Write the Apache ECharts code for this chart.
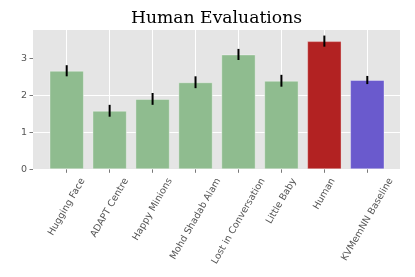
<!DOCTYPE html>
<html><head><meta charset="utf-8">
<script src="https://cdn.jsdelivr.net/npm/echarts@6/dist/echarts.min.js"></script>
<style>html,body{margin:0;padding:0;background:#fff}#c{width:415px;height:277px}</style>
</head><body><div id="c"></div>
<script>
const categories = ['Hugging Face','ADAPT Centre','Happy Minions','Mohd Shadab Alam','Lost in Conversation','Little Baby','Human','KVMemNN Baseline'];
const values = [2.66, 1.58, 1.90, 2.35, 3.10, 2.39, 3.46, 2.41];
const errors = [0.15, 0.16, 0.16, 0.16, 0.15, 0.16, 0.15, 0.11];
const barColors = ['#8FBC8F','#8FBC8F','#8FBC8F','#8FBC8F','#8FBC8F','#8FBC8F','#B22222','#6A5ACD'];
const yTicks = [0, 1, 2, 3];
const yMax = 3.76;

const LABEL_FONT_SIZE = 9.5;
const LABEL_FONT = LABEL_FONT_SIZE + 'px "DejaVu Sans"';
const measureCtx = document.createElement('canvas').getContext('2d');
measureCtx.font = LABEL_FONT;

const chart = echarts.init(document.getElementById('c'), null, {renderer: 'canvas'});
const gridTop = 30, gridBottom = 107.7;
chart.setOption({
  animation: false,
  title: {
    text: 'Human Evaluations', left: 216.5, top: 10, textAlign: 'center', padding: 0,
    textStyle: {fontFamily: '"DejaVu Serif"', fontWeight: 'normal', fontSize: 17.2, color: '#000'}
  },
  grid: [
    {left: 33, right: 15, top: gridTop, bottom: gridBottom, show: true, backgroundColor: '#E5E5E5', borderWidth: 0},
    {left: 66.7, right: 47.7, top: gridTop, bottom: gridBottom}
  ],
  xAxis: [
    {gridIndex: 0, type: 'value', min: 0, max: 1, show: false},
    {gridIndex: 1, type: 'value', min: 0, max: categories.length - 1, interval: 1,
     axisLine: {show: false},
     axisTick: {show: true, inside: false, length: 3.5, lineStyle: {color: '#555', width: 0.8}},
     axisLabel: {show: false},
     splitLine: {show: true, lineStyle: {color: '#fff', width: 1}}}
  ],
  yAxis: [
    {gridIndex: 0, type: 'value', min: 0, max: yMax,
     axisLine: {show: false},
     axisTick: {show: true, inside: false, length: 3.5, customValues: yTicks, lineStyle: {color: '#555', width: 0.8}},
     axisLabel: {customValues: yTicks, color: '#555', fontSize: LABEL_FONT_SIZE, fontFamily: '"DejaVu Sans"', margin: 6},
     splitLine: {show: true, showMaxLine: false, lineStyle: {color: '#fff', width: 1}}},
    {gridIndex: 1, type: 'value', min: 0, max: yMax, show: false, splitLine: {show: false}}
  ],
  series: [
    {
      type: 'bar', xAxisIndex: 1, yAxisIndex: 1, clip: false, barWidth: 34.4,
      data: values.map((v, i) => ({value: [i, v], itemStyle: {color: barColors[i], borderColor: 'rgba(255,255,255,0.35)', borderWidth: 1}}))
    },
    {
      type: 'custom', xAxisIndex: 1, yAxisIndex: 1, z: 5,
      encode: {x: 0, y: 1},
      data: values.map((v, i) => [i, v, errors[i]]),
      renderItem: function (params, api) {
        const i = api.value(0), v = api.value(1), e = api.value(2);
        const a = api.coord([i, v + e]);
        const b = api.coord([i, v - e]);
        return {type: 'line', shape: {x1: a[0], y1: a[1], x2: b[0], y2: b[1]}, style: {stroke: '#000', lineWidth: 2}};
      }
    },
    {
      type: 'custom', xAxisIndex: 1, yAxisIndex: 1, z: 5, silent: true,
      encode: {x: 0, y: 1},
      data: categories.map((c, i) => [i, 0]),
      renderItem: function (params, api) {
        const text = categories[params.dataIndex];
        const p = api.coord([api.value(0), 0]);
        const w = measureCtx.measureText(text).width;
        const h = LABEL_FONT_SIZE * 1.17;
        const ang = Math.PI / 3;
        const bboxH = w * Math.sin(ang) + h * Math.cos(ang);
        return {
          type: 'text', x: p[0], y: p[1] + 7 + bboxH / 2, rotation: ang,
          style: {text: text, font: LABEL_FONT, fill: '#555', align: 'center', verticalAlign: 'middle'}
        };
      }
    }
  ]
});
</script>
</body></html>
